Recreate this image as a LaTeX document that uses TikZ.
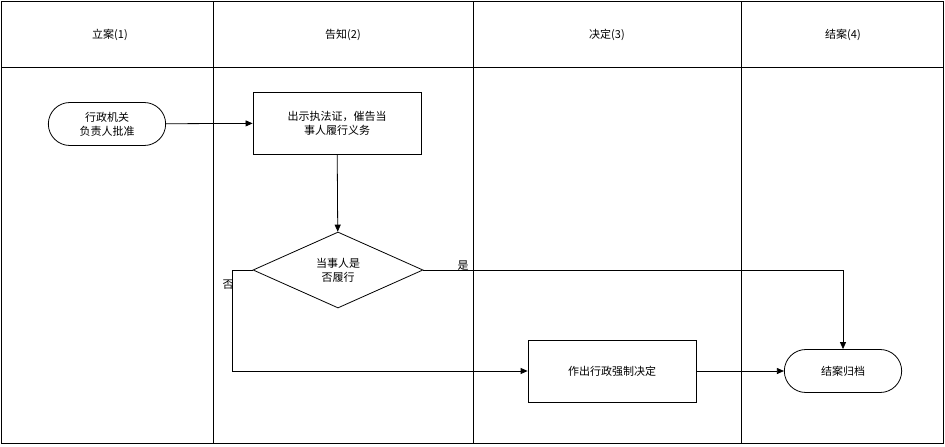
\documentclass[tikz,border=0pt]{standalone}
\usepackage{fontspec}
\newfontfamily\cjk{Noto Sans CJK SC}
\usetikzlibrary{shapes.geometric,shapes.misc,arrows.meta}
\begin{document}
\begin{tikzpicture}[x=1pt,y=-1pt,font=\cjk\fontsize{11}{14}\selectfont,
  proc/.style={draw,thick,minimum width=168pt,minimum height=62pt,align=center,inner sep=2pt},
  term/.style={draw,thick,rounded rectangle,minimum width=124pt,minimum height=43pt,align=center},
  dec/.style={draw,thick,diamond,minimum width=170pt,minimum height=76pt,aspect=2.2,align=center,inner sep=0pt},
  arr/.style={-{Triangle[length=7pt,width=6pt]},thick}]
\useasboundingbox (0,0) rectangle (945,447);
\draw[thick] (1,1) rectangle (943,443);
\draw[thick] (1,67) -- (943,67);
\foreach \x in {213,473,741} \draw[thick] (\x,1) -- (\x,443);
\node (h1) at (110,35) {立案(1)};
\node (h2) at (343,35) {告知(2)};
\node (h3) at (607,35) {决定(3)};
\node (h4) at (843,35) {结案(4)};
\node[term] (a) at (107,124) {行政机关\\负责人批准};
\node[proc] (b) at (337,123) {出示执法证，催告当\\事人履行义务};
\node[dec] (c) at (338,270) {当事人是\\否履行};
\node[proc] (d) at (612,371) {作出行政强制决定};
\node[term] (e) at (843,371) {结案归档};
\draw[arr] (a) -- (b);
\draw[arr] (b) -- (c);
\draw[arr] (c.east) -- (843,270) -- (e.north);
\node at (463,266) {是};
\draw[arr] (c.west) -- (232,270) -- (232,371) -- (d.west);
\node at (228,285) {否};
\draw[arr] (d) -- (e);
\end{tikzpicture}
\end{document}
